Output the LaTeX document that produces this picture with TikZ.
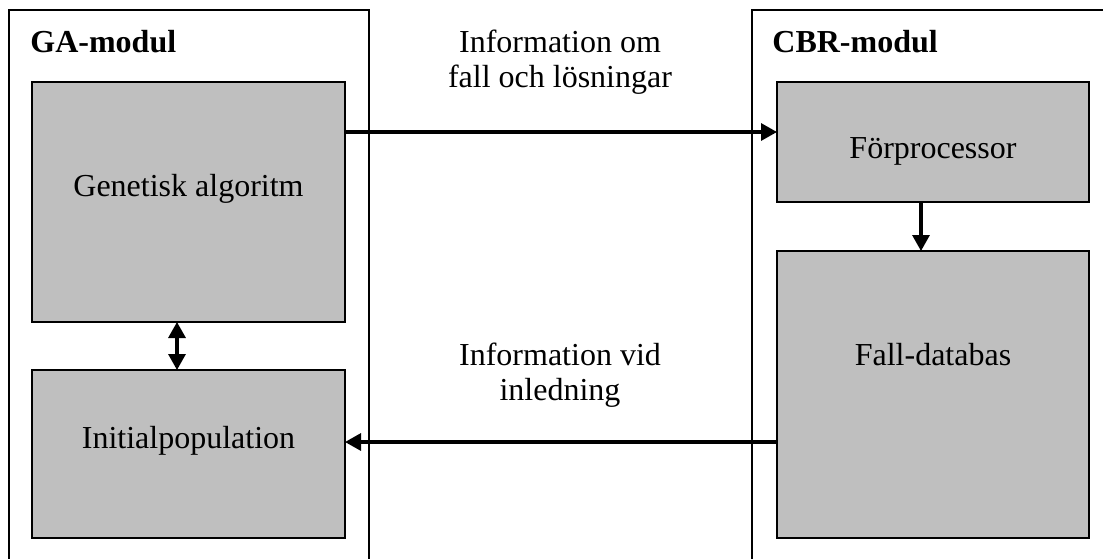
\documentclass[tikz,border=0pt]{standalone}
\usepackage{fontspec}
\setmainfont{Liberation Serif}
\usepackage{tikz}
\usetikzlibrary{arrows.meta}
\tikzset{
    modul/.style={draw, line width=1pt},
    box/.style={draw, fill=black!25, line width=0.6pt, outer sep=0pt, inner sep=0pt},
    txt/.style={font=\fontsize{16}{17.5}\selectfont, anchor=base, inner sep=0pt},
    head/.style={font=\fontsize{16}{17.5}\selectfont\bfseries, anchor=base west, inner sep=0pt},
    flow/.style={line width=1.6pt, -{Triangle[length=8pt, width=8.5pt]}},
    both/.style={line width=1.6pt, {Triangle[length=8pt, width=8.5pt]}-{Triangle[length=8pt, width=8.5pt]}},
}
\begin{document}
\begin{tikzpicture}[x=0.5pt, y=-0.5pt]
    \clip (0,0) rectangle (1103,558);
    \draw[modul] (9,10) rectangle (369,590);
    \draw[modul] (752,10) rectangle (1130,590);
    \node[head] (ga) at (30,52) {GA-modul};
    \node[head] (cbr) at (772,52) {CBR-modul};
    \node[box, minimum width=156.5pt, minimum height=120pt] (gen) at (188.5,202) {};
    \node[box, minimum width=156.5pt, minimum height=84pt] (init) at (188.5,454) {};
    \node[box, minimum width=156pt, minimum height=60pt] (pre) at (933,142) {};
    \node[box, minimum width=156pt, minimum height=143.5pt] (db) at (933,394.5) {};
    \node[txt] (gentxt) at (188.5,196) {Genetisk algoritm};
    \node[txt] (inittxt) at (188.5,448) {Initialpopulation};
    \node[txt] (pretxt) at (933,158) {Förprocessor};
    \node[txt] (dbtxt) at (933,365) {Fall-databas};
    \node[txt, align=center, anchor=north] (info1) at (560,30) {Information om\\fall och lösningar};
    \node[txt, align=center, anchor=north] (info2) at (560,343) {Information vid\\inledning};
    \draw[flow] (gen.east |- 0,132) -- (pre.west |- 0,132);
    \draw[flow] (db.west |- 0,442) -- (init.east |- 0,442);
    \draw[flow] (pre.south -| 921,0) -- (db.north -| 921,0);
    \draw[both] (gen.south -| 177,0) -- (init.north -| 177,0);
\end{tikzpicture}
\end{document}
